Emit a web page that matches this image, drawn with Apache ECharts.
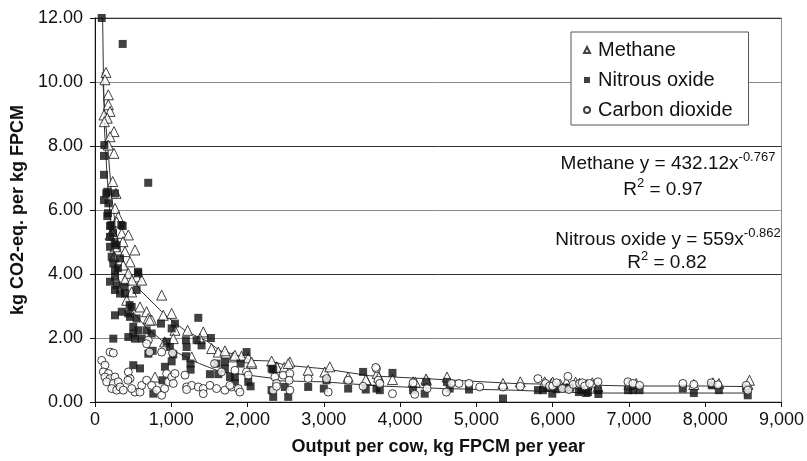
<!DOCTYPE html>
<html><head><meta charset="utf-8">
<script src="https://cdn.jsdelivr.net/npm/echarts@6/dist/echarts.min.js"></script>
<style>html,body{margin:0;padding:0;background:#fff}#c{width:807px;height:461px}</style>
</head><body><div id="c"></div>
<script>
const FONT = "'Liberation Sans', Arial, Helvetica, sans-serif";
const xTickLabels = ['0','1,000','2,000','3,000','4,000','5,000','6,000','7,000','8,000','9,000'];
const yTickLabels = ['0.00','2.00','4.00','6.00','8.00','10.00','12.00'];
const seriesNames = ['Methane','Nitrous oxide','Carbon dioxide'];

const methanePoints = [
 [144,10.3],[131,10.07],[175,9.6],[175,9.29],[197,9.08],[118,8.97],[161,8.87],[122,8.76],[249,8.45],[197,8.29],[175,8.03],[249,7.77],
 [232,6.89],[275,6.52],[262,6.05],[305,5.79],[284,5.63],[197,5.22],[350,5.27],[437,5.22],[236,5.27],[367,5.01],[262,4.85],[393,4.70],
 [524,4.75],[249,4.54],[459,4.38],[371,4.28],[437,4.02],[546,3.91],[612,3.81],[393,3.81],[485,3.81],[481,3.44],[415,3.18],[590,2.97],
 [677,2.82],[699,2.61],[743,2.56],[716,2.56],[874,3.34],[895,2.71],[1005,2.77],[1048,2.24],[1026,1.98],[913,1.88],[1214,2.24],[1419,2.19],
 [1376,1.98],[1529,1.67],[1616,1.56],[1716,1.53],[1812,1.41],[1921,1.43],[2009,1.38],[2053,1.20],[2315,1.28],[2380,1.10],[1267,1.41],
 [786,0.78],[1703,1.60],[1834,1.46],[2053,1.25],[2389,1.08],[2481,1.08],[2555,1.25],[2533,1.20],[2795,0.99],[3013,0.94],[3078,1.10],
 [3319,0.78],[3559,0.68],[3550,0.70],[3699,0.89],[3720,0.78],[3900,0.70],[4170,0.63],[4200,0.62],[4345,0.68],[4340,0.72],[4615,0.78],
 [5349,0.58],[5576,0.63],[5895,0.63],[5983,0.58],[6000,0.62],[6100,0.55],[6180,0.62],[6300,0.62],[6353,0.58],[6450,0.55],[6520,0.60],
 [6594,0.47],[7000,0.55],[7096,0.58],[7851,0.55],[8100,0.60],[8179,0.58],[8560,0.55],[8580,0.68]
];
const nitrousPoints = [
 [88,12.0],[363,11.19],[698,6.85],[122,8.03],[118,7.69],[118,7.1],[118,6.31],[148,6.52],[161,6.57],[175,6.21],[262,6.52],[161,5.81],
 [170,5.9],[197,5.5],[214,5.53],[345,5.53],[363,5.5],[197,5.16],[236,5.28],[258,4.96],[197,4.85],[284,4.90],[219,4.54],[328,4.49],
 [240,4.33],[262,4.12],[301,4.18],[563,4.07],[197,3.76],[262,3.91],[284,3.65],[389,3.60],[262,3.50],[328,3.39],[393,3.39],[546,3.50],
 [568,4.02],[481,2.97],[454,3.03],[437,2.77],[350,2.82],[262,2.71],[459,2.66],[546,2.61],[502,2.35],[568,2.24],[502,2.14],[437,2.03],
 [524,1.98],[612,1.98],[240,1.98],[677,2.24],[743,2.14],[699,1.51],[756,1.60],[865,2.45],[1005,2.30],[1048,2.45],[939,1.88],[982,1.72],
 [1026,1.49],[1005,1.27],[917,1.10],[886,0.68],[765,0.26],[502,1.15],[590,1.05],[1192,1.93],[1201,1.72],[1192,1.43],[1253,1.20],
 [1253,1.01],[1354,2.63],[1332,1.93],[1397,1.77],[1520,2.00],[1507,0.87],[1616,0.87],[1594,1.20],[1703,1.25],[1769,0.78],[1834,0.78],
 [1909,1.20],[1987,1.56],[2009,0.63],[2040,0.49],[2336,1.01],[2336,0.16],[1703,1.04],[1834,0.58],[2315,1.04],[2315,0.37],[2489,0.47],
 [2533,0.16],[2795,0.47],[3000,0.42],[3035,0.68],[3319,0.42],[3515,0.94],[3550,0.39],[3690,0.42],[3900,0.91],[3734,0.37],[4170,0.37],
 [4323,0.26],[4345,0.63],[4615,0.63],[4650,0.42],[4903,0.39],[5349,0.11],[5807,0.37],[5873,0.37],[5920,0.45],[5995,0.26],[6050,0.40],
 [6150,0.45],[6230,0.45],[6344,0.31],[6375,0.37],[6441,0.28],[6463,0.31],[6594,0.37],[6600,0.25],[6987,0.37],[7053,0.37],[7140,0.37],
 [7707,0.42],[7851,0.28],[8092,0.52],[8179,0.37],[8537,0.42],[8558,0.21]
];
const co2Points = [
 [88,1.30],[197,1.56],[240,1.53],[131,1.15],[109,0.94],[175,0.89],[131,0.78],[197,0.73],[262,0.78],[153,0.63],[240,0.58],[305,0.63],
 [219,0.42],[284,0.37],[328,0.47],[371,0.37],[437,0.94],[459,0.73],[432,0.68],[524,0.31],[481,0.42],[590,0.31],[612,0.52],[677,0.68],
 [699,1.93],[677,1.82],[716,1.56],[743,0.52],[808,0.37],[874,0.21],[874,1.56],[913,0.42],[939,0.89],[961,0.63],[1005,0.78],[1026,0.58],
 [1048,0.89],[1017,1.53],[1180,0.84],[1201,0.47],[1267,0.52],[1201,0.39],[1354,0.47],[1419,0.42],[1419,0.26],[1507,0.52],[1567,1.20],
 [1594,0.42],[1703,0.37],[1790,0.47],[1878,0.42],[1900,0.31],[1834,0.99],[1659,0.94],[1769,0.52],[1987,0.94],[2009,0.84],[2358,0.78],
 [2380,0.58],[2336,0.37],[2380,0.49],[2467,0.84],[2555,0.89],[2546,0.68],[2555,0.37],[2795,0.73],[3035,0.73],[3057,0.31],[3319,0.68],
 [3515,0.49],[3690,1.04],[3712,0.68],[3681,1.08],[3734,0.58],[3900,0.26],[4170,0.60],[4192,0.24],[4353,0.42],[4607,0.31],[4673,0.58],
 [4772,0.58],[4903,0.58],[5043,0.47],[5349,0.47],[5576,0.49],[5807,0.73],[5908,0.58],[5960,0.50],[6000,0.50],[6050,0.60],[6127,0.42],
 [6200,0.80],[6213,0.39],[6270,0.55],[6353,0.58],[6389,0.60],[6420,0.50],[6485,0.58],[6594,0.63],[6987,0.63],[7053,0.58],[7140,0.52],
 [7707,0.58],[7851,0.55],[8079,0.60],[8166,0.54],[8537,0.52],[8558,0.37]
];
const methaneTrend = [
 [95,10.3],[130,9.0],[170,7.9],[220,6.4],[290,5.1],[400,4.2],[590,3.5],[800,3.0],[950,2.65],[1200,2.2],[1470,1.9],[1640,1.6],
 [1810,1.5],[2070,1.3],[2300,1.28],[2500,1.15],[3000,1.04],[3600,0.82],[4560,0.70],[5480,0.58],[6480,0.53],[7000,0.5],[8000,0.5],[8560,0.48]
];
const nitrousTrend = [
 [100,12.0],[110,10.3],[125,8.5],[160,7.0],[200,5.8],[260,4.5],[330,3.6],[470,2.9],[680,2.3],[790,2.1],[1030,1.6],[1370,1.2],
 [1640,0.95],[1810,0.9],[2300,0.75],[2420,0.66],[3000,0.63],[3730,0.5],[4560,0.42],[5480,0.37],[6480,0.28],[7000,0.28],[8000,0.28],
 [8490,0.28],[8540,0.18]
];

const chart = echarts.init(document.getElementById('c'), null, {renderer:'canvas'});
const txt = {fontFamily: FONT, color:'#111'};
const richSup = {
  a:{fontSize:19, fontFamily:FONT, fill:'#111', verticalAlign:'bottom', lineHeight:22},
  s:{fontSize:13, fontFamily:FONT, fill:'#111', verticalAlign:'top', lineHeight:22}
};
chart.setOption({
  animation:false,
  backgroundColor:'#fff',
  grid:{left:95, right:25, top:18, bottom:59, show:true, borderColor:'#8a8a8a', borderWidth:1, backgroundColor:'transparent'},
  xAxis:{
    type:'value', min:0, max:9000, interval:1000,
    name:'Output per cow, kg FPCM per year', nameLocation:'middle', nameGap:36,
    nameTextStyle:Object.assign({fontSize:18, fontWeight:'bold'}, txt),
    axisLine:{show:true, lineStyle:{color:'#111', width:1}},
    axisTick:{show:true, length:5, lineStyle:{color:'#111'}},
    axisLabel:Object.assign({fontSize:18, margin:9, formatter:(v)=>xTickLabels[Math.round(v/1000)]}, txt),
    splitLine:{show:false}
  },
  yAxis:{
    type:'value', min:0, max:12, interval:2,
    name:'kg CO2-eq. per kg FPCM', nameLocation:'middle', nameGap:64,
    nameTextStyle:Object.assign({fontSize:18, fontWeight:'bold'}, txt),
    axisLine:{show:true, lineStyle:{color:'#111', width:1}},
    axisTick:{show:true, length:5, lineStyle:{color:'#111'}},
    axisLabel:Object.assign({fontSize:18, margin:12, formatter:(v)=>yTickLabels[Math.round(v/2)]}, txt),
    splitLine:{show:true, lineStyle:{color:['#333','#8a8a8a'], width:1}}
  },
  legend:{
    orient:'vertical', left:571, top:32, padding:[8,16,5,12], itemGap:10, itemWidth:6, itemHeight:6,
    borderColor:'#555', borderWidth:1, backgroundColor:'#fff',
    textStyle:Object.assign({fontSize:20, padding:[0,0,0,3]}, txt),
    data:seriesNames
  },
  graphic:[
    {type:'text', x:668, y:162, z:100, style:{text:'{a|Methane y = 432.12x}{s|-0.767}', align:'center', verticalAlign:'middle', rich:richSup}},
    {type:'text', x:663, y:188, z:100, style:{text:'{a|R}{s|2}{a| = 0.97}', align:'center', verticalAlign:'middle', rich:richSup}},
    {type:'text', x:668, y:238, z:100, style:{text:'{a|Nitrous oxide y = 559x}{s|-0.862}', align:'center', verticalAlign:'middle', rich:richSup}},
    {type:'text', x:667, y:261, z:100, style:{text:'{a|R}{s|2}{a| = 0.82}', align:'center', verticalAlign:'middle', rich:richSup}}
  ],
  series:[
    {name:'Methane trend', type:'line', data:methaneTrend, showSymbol:false, smooth:false, silent:true, z:1,
      lineStyle:{color:'#333', width:1}},
    {name:'Nitrous oxide trend', type:'line', data:nitrousTrend, showSymbol:false, smooth:false, silent:true, z:1,
      lineStyle:{color:'#333', width:1}},
    {name:seriesNames[0], type:'scatter', data:methanePoints, symbol:'triangle', symbolSize:10, z:3,
      itemStyle:{color:'#fff', borderColor:'#111', borderWidth:1}},
    {name:seriesNames[1], type:'scatter', data:nitrousPoints, symbol:'rect', symbolSize:8, z:3,
      itemStyle:{color:'#111', borderColor:'#111', borderWidth:0}},
    {name:seriesNames[2], type:'scatter', data:co2Points, symbol:'circle', symbolSize:8, z:3,
      itemStyle:{color:'#fff', borderColor:'#111', borderWidth:1}}
  ]
});
</script></body></html>
